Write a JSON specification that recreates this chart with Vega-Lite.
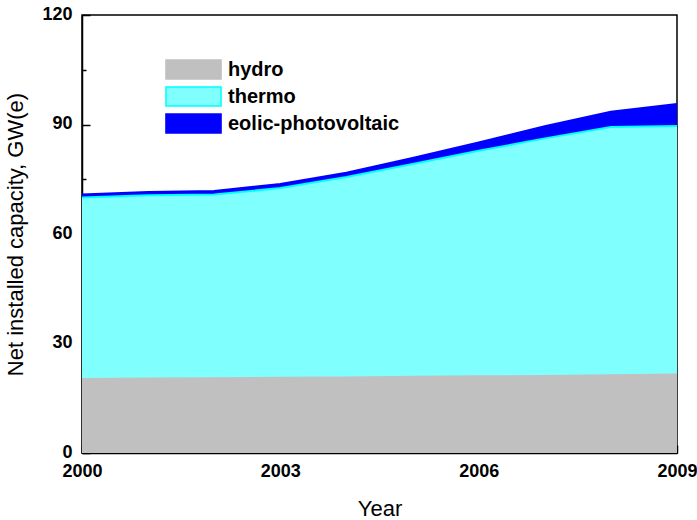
{
  "$schema": "https://vega.github.io/schema/vega-lite/v6.json",
  "width": 595,
  "height": 438,
  "autosize": {"type": "none"},
  "padding": {"left": 82, "top": 15, "right": 20, "bottom": 67},
  "config": {
    "font": "Liberation Sans",
    "view": {"stroke": "black", "strokeWidth": 1.5},
    "axis": {
      "domainColor": "black", "domainWidth": 1.5, "tickColor": "black", "tickWidth": 1.5,
      "grid": false, "labelFont": "Liberation Sans", "labelFontWeight": "bold", "labelFontSize": 18,
      "labelColor": "black", "titleFont": "Liberation Sans", "titleFontWeight": "normal",
      "titleFontSize": 22, "titleColor": "black"
    }
  },
  "data": {
    "values": [
      {"year": 2000, "type": "hydro", "rank": 1, "gw": 20.3},
      {"year": 2001, "type": "hydro", "rank": 1, "gw": 20.4},
      {"year": 2002, "type": "hydro", "rank": 1, "gw": 20.5},
      {"year": 2003, "type": "hydro", "rank": 1, "gw": 20.6},
      {"year": 2004, "type": "hydro", "rank": 1, "gw": 20.7},
      {"year": 2005, "type": "hydro", "rank": 1, "gw": 20.9},
      {"year": 2006, "type": "hydro", "rank": 1, "gw": 21.0},
      {"year": 2007, "type": "hydro", "rank": 1, "gw": 21.1},
      {"year": 2008, "type": "hydro", "rank": 1, "gw": 21.3},
      {"year": 2009, "type": "hydro", "rank": 1, "gw": 21.5},
      {"year": 2000, "type": "thermo", "rank": 2, "gw": 49.7},
      {"year": 2001, "type": "thermo", "rank": 2, "gw": 50.2},
      {"year": 2002, "type": "thermo", "rank": 2, "gw": 50.3},
      {"year": 2003, "type": "thermo", "rank": 2, "gw": 52.0},
      {"year": 2004, "type": "thermo", "rank": 2, "gw": 54.9},
      {"year": 2005, "type": "thermo", "rank": 2, "gw": 58.3},
      {"year": 2006, "type": "thermo", "rank": 2, "gw": 61.8},
      {"year": 2007, "type": "thermo", "rank": 2, "gw": 65.1},
      {"year": 2008, "type": "thermo", "rank": 2, "gw": 68.0},
      {"year": 2009, "type": "thermo", "rank": 2, "gw": 68.1},
      {"year": 2000, "type": "eolic-photovoltaic", "rank": 3, "gw": 0.8},
      {"year": 2001, "type": "eolic-photovoltaic", "rank": 3, "gw": 0.9},
      {"year": 2002, "type": "eolic-photovoltaic", "rank": 3, "gw": 1.0},
      {"year": 2003, "type": "eolic-photovoltaic", "rank": 3, "gw": 1.1},
      {"year": 2004, "type": "eolic-photovoltaic", "rank": 3, "gw": 1.2},
      {"year": 2005, "type": "eolic-photovoltaic", "rank": 3, "gw": 1.6},
      {"year": 2006, "type": "eolic-photovoltaic", "rank": 3, "gw": 2.3},
      {"year": 2007, "type": "eolic-photovoltaic", "rank": 3, "gw": 3.3},
      {"year": 2008, "type": "eolic-photovoltaic", "rank": 3, "gw": 4.2},
      {"year": 2009, "type": "eolic-photovoltaic", "rank": 3, "gw": 6.0}
    ]
  },
  "encoding": {
    "x": {
      "field": "year", "type": "quantitative",
      "scale": {"domain": [2000, 2009], "nice": false, "zero": false},
      "axis": {
        "values": [2000, 2001.5, 2003, 2004.5, 2006, 2007.5, 2009],
        "labelExpr": "(datum.value - 2000) % 3 == 0 ? format(datum.value, 'd') : ''",
        "labelFlush": false, "labelPadding": 17,
        "tickSize": {"condition": {"test": "(datum.value - 2000) % 3 == 0", "value": -8}, "value": -4},
        "title": "Year", "titleY": 55, "titleBaseline": "middle"
      }
    },
    "y": {
      "field": "gw", "type": "quantitative", "stack": "zero",
      "scale": {"domain": [0, 120], "nice": false},
      "axis": {
        "values": [0, 15, 30, 45, 60, 75, 90, 105, 120],
        "labelExpr": "datum.value % 30 == 0 ? datum.label : ''",
        "labelPadding": 18, "labelOffset": -1,
        "tickSize": {"condition": {"test": "datum.value % 30 == 0", "value": -8}, "value": -4},
        "title": "Net installed capacity, GW(e)", "titleX": -67, "titleY": 219, "titleBaseline": "middle"
      }
    },
    "order": {"field": "rank", "type": "quantitative"}
  },
  "layer": [
    {
      "mark": {"type": "area", "opacity": 1},
      "encoding": {
        "color": {
          "field": "type", "type": "nominal",
          "sort": ["hydro", "thermo", "eolic-photovoltaic"],
          "scale": {"domain": ["hydro", "thermo", "eolic-photovoltaic"], "range": ["#c0c0c0", "#80ffff", "#0000ff"]},
          "legend": {
            "title": null, "orient": "none", "legendX": 101, "legendY": 44, "padding": 0,
            "symbolType": "M-2.9,-1L2.9,-1L2.9,1L-2.9,1Z", "symbolSize": 361,
            "symbolOpacity": 1, "symbolStrokeWidth": 1.5, "rowPadding": 2,
            "labelFont": "Liberation Sans", "labelFontWeight": "bold", "labelFontSize": 20,
            "labelColor": "black", "labelOffset": 24, "labelLimit": 400,
            "encode": {"symbols": {"update": {"stroke": {"signal": "datum.value === 'thermo' ? '#00ffff' : scale('color', datum.value)"}}}}
          }
        }
      }
    },
    {
      "mark": {"type": "line", "strokeWidth": 2},
      "encoding": {
        "stroke": {
          "field": "type", "type": "nominal",
          "sort": ["hydro", "thermo", "eolic-photovoltaic"],
          "scale": {"domain": ["hydro", "thermo", "eolic-photovoltaic"], "range": ["#c0c0c0", "#00ffff", "#0000ff"]},
          "legend": null
        }
      }
    }
  ]
}
